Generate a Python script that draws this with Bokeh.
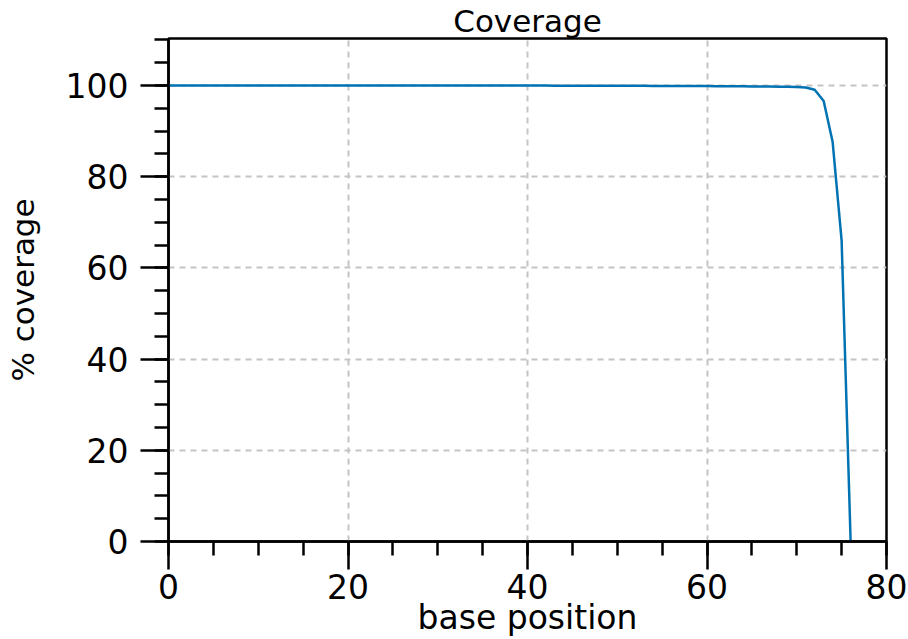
from bokeh.plotting import figure
from bokeh.models import Range1d, FixedTicker
from bokeh.embed import file_html
from bokeh.resources import INLINE

positions = list(range(0, 77))
coverage = [
    100.0, 100.0, 100.0, 100.0, 100.0, 100.0, 100.0, 100.0, 100.0, 100.0,
    100.0, 100.0, 100.0, 100.0, 100.0, 100.0, 100.0, 100.0, 100.0, 100.0,
    100.0, 100.0, 100.0, 100.0, 100.0, 100.0, 100.0, 100.0, 100.0, 99.99,
    99.99, 99.99, 99.99, 99.99, 99.99, 99.99, 99.98, 99.98, 99.98, 99.98,
    99.97, 99.97, 99.97, 99.96, 99.96, 99.96, 99.95, 99.95, 99.94, 99.94,
    99.93, 99.93, 99.92, 99.92, 99.91, 99.90, 99.90, 99.89, 99.88, 99.87,
    99.86, 99.85, 99.84, 99.83, 99.82, 99.80, 99.78, 99.76, 99.73, 99.70,
    99.65, 99.55, 99.05, 96.6, 87.6, 66.0, 0.2,
]
x_major = [0, 20, 40, 60, 80]
y_major = [0, 20, 40, 60, 80, 100]

FONT = "DejaVu Sans"

p = figure(width=908, height=639, output_backend="svg", toolbar_location=None,
           x_range=Range1d(0, 80), y_range=Range1d(0, 110.3),
           title="Coverage",
           min_border_left=168, min_border_right=22, min_border_top=38, min_border_bottom=98)

p.title.text_font = FONT
p.title.text_font_size = "31px"
p.title.text_font_style = "normal"
p.title.text_color = "black"
p.title.align = "center"
p.title.standoff = 0
p.title.offset = 0

p.line(positions, coverage, line_color="#0173b2", line_width=2.5)

for ax, maj in ((p.xaxis[0], x_major), (p.yaxis[0], y_major)):
    ax.ticker = FixedTicker(ticks=maj, minor_ticks=list(range(0, 111, 5)))
    ax.axis_line_color = "black"
    ax.axis_line_width = 2.5
    ax.major_tick_line_width = 2.5
    ax.minor_tick_line_width = 2.5
    ax.major_tick_out = 28
    ax.major_tick_in = 0
    ax.minor_tick_out = 14
    ax.minor_tick_in = 0
    ax.major_label_text_font = FONT
    ax.major_label_text_font_size = "33px"
    ax.major_label_text_color = "black"
    ax.axis_label_text_font = FONT
    ax.axis_label_text_font_style = "normal"
    ax.axis_label_text_color = "black"

p.xaxis.axis_label = "base position"
p.yaxis.axis_label = "% coverage"
p.xaxis.axis_label_text_font_size = "33px"
p.yaxis.axis_label_text_font_size = "31px"
p.xaxis.major_label_standoff = 4
p.yaxis.major_label_standoff = 12
p.xaxis.axis_label_standoff = -4
p.yaxis.axis_label_standoff = 22

p.xgrid.ticker = FixedTicker(ticks=[20, 40, 60])
p.ygrid.ticker = FixedTicker(ticks=[20, 40, 60, 80, 100])
for g in (p.xgrid[0], p.ygrid[0]):
    g.grid_line_color = "#c4c4c4"
    g.grid_line_width = 2
    g.grid_line_dash = "6 5"

p.outline_line_color = "black"
p.outline_line_width = 2.5
p.outline_line_alpha = 1

open("out.html", "w").write(file_html(p, INLINE))
